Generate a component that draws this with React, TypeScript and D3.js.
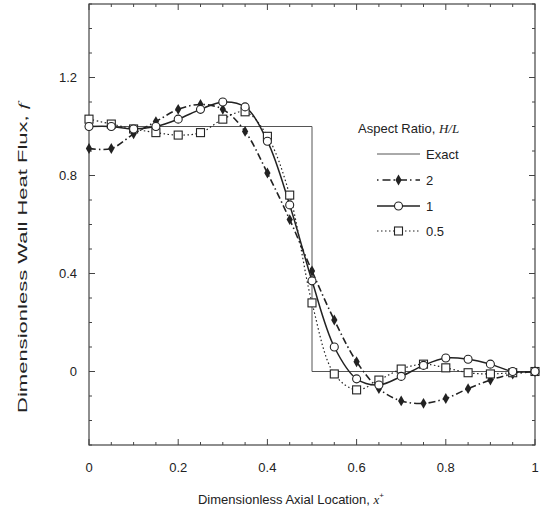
import React from "react";
import * as d3 from "d3";

const xPos = [0, 0.05, 0.1, 0.15, 0.2, 0.25, 0.3, 0.35, 0.4, 0.45, 0.5, 0.55, 0.6, 0.65, 0.7, 0.75, 0.8, 0.85, 0.9, 0.95, 1.0];
const ar2 = [0.91, 0.91, 0.97, 1.02, 1.07, 1.09, 1.07, 0.98, 0.81, 0.62, 0.41, 0.21, 0.04, -0.07, -0.12, -0.13, -0.11, -0.07, -0.035, -0.01, 0.0];
const ar1 = [1.0, 1.0, 0.99, 1.0, 1.03, 1.07, 1.1, 1.08, 0.94, 0.68, 0.37, 0.1, -0.03, -0.055, -0.02, 0.025, 0.055, 0.05, 0.03, 0.0, 0.0];
const ar05 = [1.03, 1.01, 0.99, 0.975, 0.965, 0.975, 1.03, 1.06, 0.96, 0.72, 0.28, -0.01, -0.075, -0.035, 0.01, 0.03, 0.015, -0.005, -0.01, -0.005, 0.0];
const exactX = [0, 0.5, 0.5, 1];
const exactY = [1, 1, 0, 0];

const xTickLabels = [0, 0.2, 0.4, 0.6, 0.8, 1];
const yTickLabels = [0, 0.4, 0.8, 1.2];
const legendLabels = ["Exact", "2", "1", "0.5"];

const W = 549, H = 519;
const FONT = "'Liberation Sans', Arial, Helvetica, sans-serif";
const INK = "#222";

export default function App() {
  const x = d3.scaleLinear().domain([0, 1]).range([89, 535]);
  const y = d3.scaleLinear().domain([-0.3, 1.5]).range([445, 4]);
  const [x0, x1] = x.range();
  const [y0, y1] = y.range();

  const curve = d3.line<[number, number]>().x(d => x(d[0])).y(d => y(d[1])).curve(d3.curveCatmullRom.alpha(0.5));
  const straight = d3.line<[number, number]>().x(d => x(d[0])).y(d => y(d[1]));

  const pts = (vals: number[]) => xPos.map((v, i) => [v, vals[i]] as [number, number]);
  const diamond = d3.symbol().type(d3.symbolDiamond).size(34)();

  const xMinor = x.ticks(20);
  const yMinor = y.ticks(18);
  const isMajor = (v: number, labels: number[]) => labels.some(l => Math.abs(l - v) < 1e-9);

  const legX0 = 377, legX1 = 420, legTX = 426;
  const legY = [154, 180, 206, 231];

  return (
    <svg width={W} height={H} style={{ position: "absolute", left: 0, top: 0, background: "#fff" }} fontFamily={FONT}>
      <rect x={0} y={0} width={W} height={H} fill="#fff" />
      {/* frame */}
      <rect x={x0} y={y1} width={x1 - x0} height={y0 - y1} fill="none" stroke="#444" strokeWidth={1.2} />
      {/* ticks */}
      {xMinor.map((v, i) => {
        const len = isMajor(v, xTickLabels) ? 6 : 3;
        return (
          <g key={"xt" + i} stroke="#444" strokeWidth={1}>
            <line x1={x(v)} x2={x(v)} y1={y0} y2={y0 - len} />
            <line x1={x(v)} x2={x(v)} y1={y1} y2={y1 + len} />
          </g>
        );
      })}
      {yMinor.map((v, i) => {
        const len = isMajor(v, yTickLabels) ? 6 : 3;
        return (
          <g key={"yt" + i} stroke="#444" strokeWidth={1}>
            <line x1={x0} x2={x0 + len} y1={y(v)} y2={y(v)} />
            <line x1={x1} x2={x1 - len} y1={y(v)} y2={y(v)} />
          </g>
        );
      })}
      {xTickLabels.map((v, i) => (
        <text key={"xl" + i} x={x(v)} y={472} textAnchor="middle" fontSize={13} fill={INK}>{String(v)}</text>
      ))}
      {yTickLabels.map((v, i) => (
        <text key={"yl" + i} x={77} y={y(v) + 4.5} textAnchor="end" fontSize={13} fill={INK}>{String(v)}</text>
      ))}
      {/* axis titles */}
      <text x={291} y={504} textAnchor="middle" fontSize={13} fill={INK}>
        Dimensionless Axial Location,  <tspan fontStyle="italic" fontFamily="'Liberation Serif', serif">x</tspan><tspan fontSize={8} dy={-6}>+</tspan>
      </text>
      <text transform="translate(27,258) rotate(-90)" textAnchor="middle" fontSize={13.5} fill={INK} textLength={310} lengthAdjust="spacingAndGlyphs">
        Dimensionless Wall Heat Flux,  <tspan fontStyle="italic" fontFamily="'Liberation Serif', serif">f</tspan>
      </text>

      {/* exact */}
      <path d={straight(exactX.map((v, i) => [v, exactY[i]] as [number, number])) || ""} fill="none" stroke="#555" strokeWidth={1} />
      {/* series lines */}
      <path d={curve(pts(ar2)) || ""} fill="none" stroke={INK} strokeWidth={1.6} strokeDasharray="7 3 1.5 3" />
      <path d={curve(pts(ar1)) || ""} fill="none" stroke={INK} strokeWidth={1.5} />
      <path d={curve(pts(ar05)) || ""} fill="none" stroke={INK} strokeWidth={1.2} strokeDasharray="1.5 2.5" />

      {/* markers */}
      {pts(ar2).map((p, i) => (
        <path key={"m2" + i} d={diamond || ""} transform={`translate(${x(p[0])},${y(p[1])})`} fill={INK} />
      ))}
      {pts(ar05).map((p, i) => (
        <rect key={"m05" + i} x={x(p[0]) - 4} y={y(p[1]) - 4} width={8} height={8} fill="#fff" stroke={INK} strokeWidth={1.1} />
      ))}
      {pts(ar1).map((p, i) => (
        <circle key={"m1" + i} cx={x(p[0])} cy={y(p[1])} r={4} fill="#fff" stroke={INK} strokeWidth={1.1} />
      ))}

      {/* legend */}
      <text x={358} y={133} fontSize={13} fill={INK}>
        Aspect Ratio, <tspan fontStyle="italic" fontFamily="'Liberation Serif', serif">H/L</tspan>
      </text>
      <line x1={legX0} x2={legX1} y1={legY[0]} y2={legY[0]} stroke="#555" strokeWidth={1} />
      <line x1={legX0} x2={legX1} y1={legY[1]} y2={legY[1]} stroke={INK} strokeWidth={1.6} strokeDasharray="1.5 4 8 3" />
      <path d={diamond || ""} transform={`translate(${(legX0 + legX1) / 2},${legY[1]})`} fill={INK} />
      <line x1={legX0} x2={legX1} y1={legY[2]} y2={legY[2]} stroke={INK} strokeWidth={1.5} />
      <circle cx={(legX0 + legX1) / 2} cy={legY[2]} r={4} fill="#fff" stroke={INK} strokeWidth={1.1} />
      <line x1={legX0} x2={legX1} y1={legY[3]} y2={legY[3]} stroke={INK} strokeWidth={1.2} strokeDasharray="1.5 2.5" />
      <rect x={(legX0 + legX1) / 2 - 4} y={legY[3] - 4} width={8} height={8} fill="#fff" stroke={INK} strokeWidth={1.1} />
      {legendLabels.map((l, i) => (
        <text key={"lg" + i} x={legTX} y={legY[i] + 5} fontSize={13} fill={INK}>{l}</text>
      ))}
    </svg>
  );
}
